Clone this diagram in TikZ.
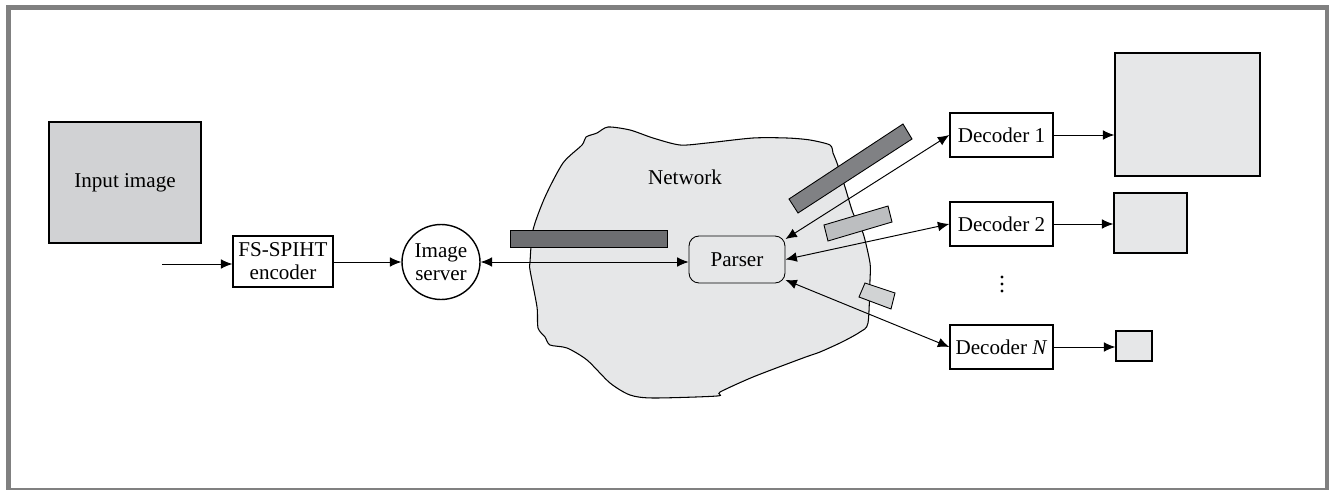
\documentclass[tikz,border=0pt]{standalone}
\usepackage{fontspec}
\setmainfont{Liberation Serif}
\usetikzlibrary{arrows.meta}
\usetikzlibrary{shapes.geometric}
\definecolor{framegray}{HTML}{808080}
\definecolor{inputgray}{HTML}{D1D2D4}
\definecolor{cloudgray}{HTML}{E6E7E8}
\definecolor{bardark}{HTML}{6D6E71}
\definecolor{barmid}{HTML}{808184}
\definecolor{barlight}{HTML}{BCBEC0}
\definecolor{barpale}{HTML}{D1D3D4}
\tikzstyle{block}=[draw, line width=0.8pt, fill=white, inner sep=1pt, font=\fontsize{12}{13}\selectfont, align=center]
\tikzstyle{picture}=[draw, line width=0.8pt, fill=cloudgray, inner sep=0]
\tikzstyle{packet}=[draw, line width=0.5pt]
\tikzstyle{link}=[line width=0.55pt, -{Latex[length=6.5pt,width=5.5pt]}]
\tikzstyle{duplex}=[line width=0.55pt, {Latex[length=6.5pt,width=5.5pt]}-{Latex[length=6.5pt,width=5.5pt]}]

\begin{document}
\begin{tikzpicture}[x=0.02cm, y=-0.02cm]
          \useasboundingbox (0,0) rectangle (1329,490);
          % frame
          \fill[framegray] (6,5) rectangle (1329,490);
          \fill[white] (11,10) rectangle (1325,488);

          % network cloud
          \filldraw[fill=cloudgray, line width=0.6pt] plot[smooth cycle, tension=0.45] coordinates {
            (530,262) (533,230) (545,197) (563,163) (582,145) (586,137) (597,133)
            (608,127) (630,130) (653,138) (680,145) (707,143) (753,138) (787,138)
            (810,140) (830,145) (833,153) (837,163) (845,187) (853,213) (863,233)
            (870,263) (870,280) (868,323) (860,332) (842,342) (820,352) (803,358)
            (753,377) (720,392) (717,396) (653,398) (630,395) (610,383) (587,360)
            (567,348) (550,345) (545,337) (538,328) (537,307) (530,270)};
          \node[font=\fontsize{12}{13}\selectfont] (network) at (685,177) {Network};

          % packets
          \filldraw[packet, fill=bardark] (510,230) rectangle (667,247);
          \filldraw[packet, fill=barmid] (789,199) -- (903,124) -- (912,139) -- (798,213) -- cycle;
          \filldraw[packet, fill=barlight] (824,225) -- (888,206) -- (892,222) -- (828,241) -- cycle;
          \filldraw[packet, fill=barpale] (859,297) -- (865,283) -- (895,293) -- (891,309) -- cycle;

          % sender side
          \node[picture, fill=inputgray, minimum width=3.04cm, minimum height=2.42cm,
                font=\fontsize{12}{13}\selectfont] (input) at (125,182.5) {Input image};
          \coordinate (source) at (162,264);
          \node[block, minimum width=2cm, minimum height=1.02cm] (encoder) at (283,261.5) {FS-SPIHT\\encoder};
          \node[block, ellipse, minimum width=1.56cm, minimum height=1.5cm, inner sep=0] (server) at (441,262) {Image\\server};
          \node[block, fill=none, rounded corners=0.2cm, line width=0.5pt, minimum width=1.92cm,
                minimum height=0.94cm] (parser) at (737,259.5) {Parser};

          % receivers
          \node[block, minimum width=2.06cm, minimum height=0.88cm] (dec_1) at (1001.5,135) {Decoder 1};
          \node[block, minimum width=2.06cm, minimum height=0.88cm] (dec_2) at (1001.5,224) {Decoder 2};
          \node[block, minimum width=2.06cm, minimum height=0.88cm] (dec_n) at (1001.5,347) {Decoder \textit{N}};
          \foreach \y in {277,284,291}
            \fill (1002,\y) circle (0.9pt);
          \node[picture, minimum width=2.9cm, minimum height=2.46cm] (out_1) at (1187.5,114.5) {};
          \node[picture, minimum width=1.46cm, minimum height=1.2cm] (out_2) at (1150.5,223) {};
          \node[picture, minimum width=0.72cm, minimum height=0.6cm] (out_n) at (1134,346) {};

          \draw[link] (source) -- (source -| encoder.west);
          \draw[link] (encoder.east |- server.west) -- (server.west);
          \draw[duplex] (server.east) -- (server.east -| parser.west);
          \draw[duplex] ([yshift=-2pt]parser.north east) -- (dec_1.west);
          \draw[duplex] (parser.east) -- (dec_2.west);
          \draw[duplex] ([yshift=2pt]parser.south east) -- (dec_n.west);
          \draw[link] (dec_1.east) -- (dec_1.east -| out_1.west);
          \draw[link] (dec_2.east) -- (dec_2.east -| out_2.west);
          \draw[link] (dec_n.east) -- (dec_n.east -| out_n.west);
        \end{tikzpicture}
\end{document}
